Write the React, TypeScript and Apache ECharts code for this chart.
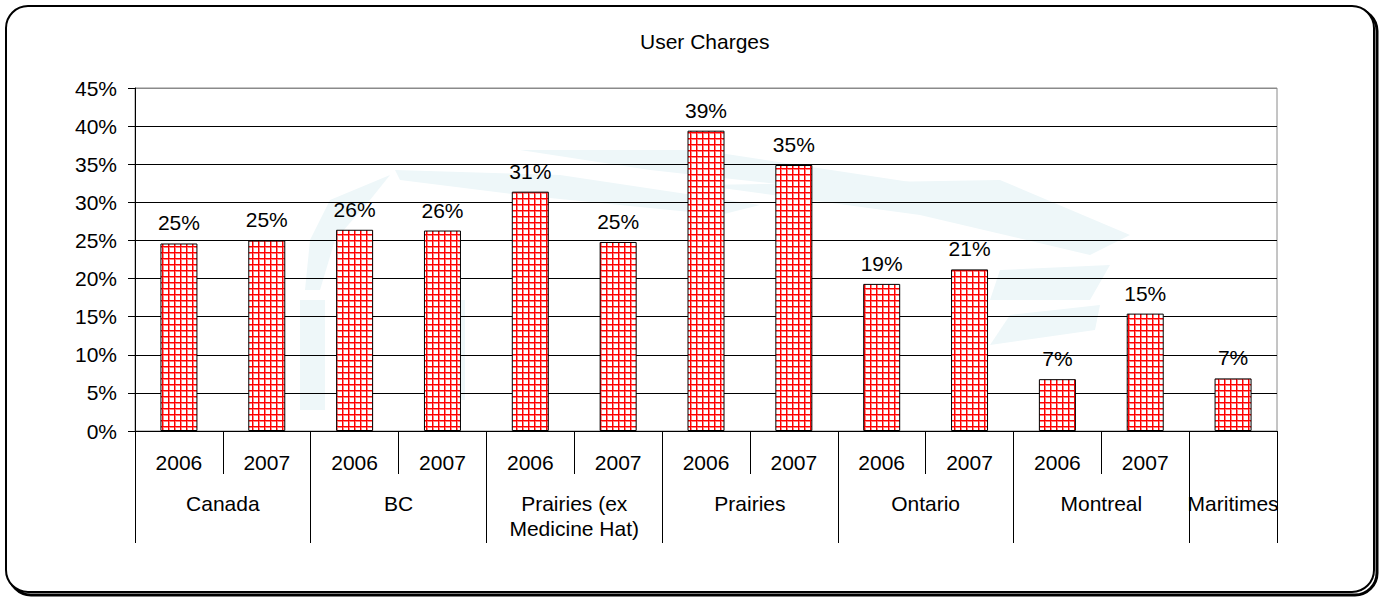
import React, { useEffect, useRef } from "react";
import * as echarts from "echarts";

// ---- data ----
const yearLabels = ["2006", "2007", "2006", "2007", "2006", "2007", "2006", "2007", "2006", "2007", "2006", "2007", ""];
const groupNames = ["Canada", "BC", "Prairies (ex\nMedicine Hat)", "Prairies", "Ontario", "Montreal", "Maritimes"];
const groupSpans = [2, 2, 2, 2, 2, 2, 1];
const userCharges = [0.246, 0.25, 0.264, 0.263, 0.314, 0.248, 0.394, 0.349, 0.193, 0.212, 0.068, 0.154, 0.069];
const yMin = 0;
const yMax = 0.45;
const yStep = 0.05;
const titleText = "User Charges";

function makeGridPattern(): string {
  const c = document.createElement("canvas");
  c.width = 6;
  c.height = 6;
  const ctx = c.getContext("2d")!;
  ctx.fillStyle = "#ffffff";
  ctx.fillRect(0, 0, 6, 6);
  ctx.fillStyle = "#ff8080";
  ctx.fillRect(0, 0, 6, 2);
  ctx.fillRect(0, 0, 2, 6);
  ctx.fillStyle = "#ff0000";
  ctx.fillRect(0, 0, 6, 1);
  ctx.fillRect(0, 0, 1, 6);
  return c.toDataURL();
}

export default function App() {
  const ref = useRef<HTMLDivElement>(null);

  useEffect(() => {
    if (!ref.current) return;
    const chart = echarts.init(ref.current, undefined, { renderer: "svg" });

    const boundaries: number[] = [0];
    const centers: number[] = [];
    groupSpans.forEach((s) => {
      const start = boundaries[boundaries.length - 1];
      centers.push(start + s / 2);
      boundaries.push(start + s);
    });
    const total = boundaries[boundaries.length - 1];

    const patternSrc = makeGridPattern();
    const font = "Liberation Sans, Arial, sans-serif";
    const fs = 21;
    const nSplits = Math.round((yMax - yMin) / yStep) + 1;
    const splitColors = Array.from({ length: nSplits }, (_, i) => (i === nSplits - 1 ? "#8a8a8a" : "#000000"));
    const wm = "#eef7f9";
    const wmPoly = (pts: number[][]) => ({
      type: "polygon",
      z: -18,
      silent: true,
      shape: { points: pts },
      style: { fill: wm },
    });

    const option: echarts.EChartsOption = {
      animation: false,
      backgroundColor: "transparent",
      textStyle: { fontFamily: font },
      title: {
        text: titleText,
        left: 635,
        top: 26,
        textStyle: { fontSize: fs, fontWeight: "normal", color: "#000", fontFamily: font },
      },
      graphic: [
        {
          type: "rect",
          z: -20,
          silent: true,
          shape: { x: 9, y: 9, width: 1368, height: 586, r: 22 },
          style: { fill: "none", stroke: "#000", lineWidth: 3 },
        },
        {
          type: "rect",
          z: -19,
          silent: true,
          shape: { x: 6, y: 6, width: 1368, height: 586, r: 22 },
          style: { fill: "#fff", stroke: "#000", lineWidth: 2 },
        },
        // faint watermark
        wmPoly([[395, 170], [560, 175], [760, 205], [720, 215], [520, 195], [400, 180]]),
        wmPoly([[520, 150], [700, 150], [930, 185], [880, 195], [650, 170]]),
        wmPoly([[700, 185], [1000, 180], [1130, 235], [1090, 255], [920, 215]]),
        wmPoly([[1000, 270], [1110, 265], [1090, 300], [990, 300]]),
        wmPoly([[1010, 315], [1100, 305], [1095, 330], [990, 345]]),
        wmPoly([[330, 200], [390, 175], [370, 200], [335, 240], [320, 290], [305, 290], [310, 240]]),
        wmPoly([[300, 300], [325, 300], [325, 410], [300, 410]]),
        wmPoly([[440, 300], [465, 300], [465, 400], [440, 400]]),
        wmPoly([[610, 305], [635, 305], [635, 370], [610, 370]]),
      ] as any,
      grid: {
        left: 135,
        right: 103,
        top: 88,
        bottom: 167,
        show: true,
        borderColor: "#8a8a8a",
        borderWidth: 1,
        backgroundColor: "transparent",
      },
      yAxis: {
        type: "value",
        min: yMin,
        max: yMax,
        interval: yStep,
        axisLine: { show: true, lineStyle: { color: "#000", width: 1 } },
        axisTick: { show: true, length: 7, lineStyle: { color: "#000" } },
        axisLabel: {
          margin: 18,
          fontSize: fs,
          color: "#000",
          fontFamily: font,
          formatter: (v: number) => `${Math.round(v * 100)}%`,
        },
        splitLine: { show: true, lineStyle: { color: splitColors, width: 1 } },
      },
      xAxis: [
        {
          type: "category",
          data: yearLabels,
          position: "bottom",
          axisLine: { show: true, lineStyle: { color: "#000", width: 1 } },
          axisTick: { show: true, length: 43, interval: 0, lineStyle: { color: "#000" } },
          axisLabel: { interval: 0, margin: 21, fontSize: fs, color: "#000", fontFamily: font },
        },
        {
          type: "value",
          min: 0,
          max: total,
          position: "bottom",
          offset: 0,
          axisLine: { show: false },
          splitLine: { show: false },
          axisTick: {
            show: true,
            length: 112,
            customValues: boundaries,
            lineStyle: { color: "#000" },
          },
          axisLabel: {
            show: true,
            customValues: centers,
            margin: 60,
            fontSize: fs,
            lineHeight: 25,
            color: "#000",
            fontFamily: font,
            align: "center",
            formatter: (v: number) => {
              const i = centers.findIndex((c) => Math.abs(c - v) < 1e-6);
              return i >= 0 ? groupNames[i] : "";
            },
          },
        } as any,
      ],
      series: [
        {
          type: "bar",
          xAxisIndex: 0,
          yAxisIndex: 0,
          data: userCharges,
          barWidth: 37,
          itemStyle: {
            color: { image: patternSrc, repeat: "repeat" } as any,
            borderColor: "#000",
            borderWidth: 1,
          },
          label: {
            show: true,
            position: "top",
            distance: 10,
            fontSize: fs,
            color: "#000",
            fontFamily: font,
            formatter: (p: any) => `${Math.round(p.value * 100)}%`,
          },
        },
      ],
    };

    chart.setOption(option);
    return () => chart.dispose();
  }, []);

  return (
    <div
      ref={ref}
      style={{ position: "absolute", left: 0, top: 0, width: 1380, height: 598, background: "#fff" }}
    />
  );
}
